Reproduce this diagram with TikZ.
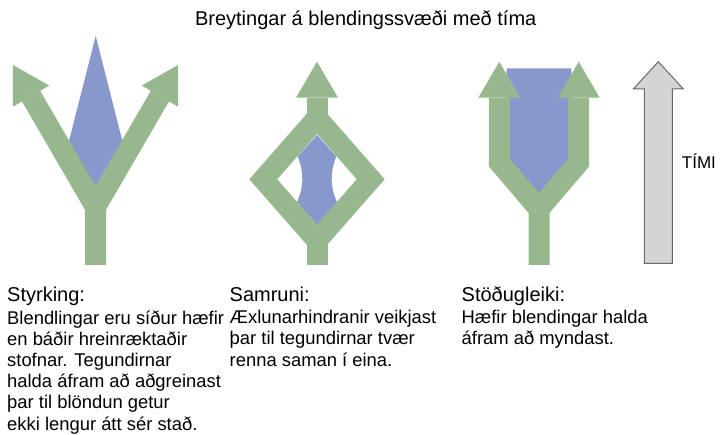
\documentclass[tikz,border=0pt]{standalone}
\usepackage{fontspec}
\setmainfont{Liberation Sans}
\usepackage{tikz}
\usetikzlibrary{positioning}
\usetikzlibrary{arrows.meta}
\definecolor{armgreen}{RGB}{151,184,143}
\definecolor{hybridblue}{RGB}{136,152,204}
\definecolor{timegray}{RGB}{211,212,214}
\definecolor{timeedge}{RGB}{105,105,105}

\begin{document}
\begin{tikzpicture}[x=1pt, y=-1pt,
    arm/.style = {draw=armgreen, line width=21pt, line join=miter},
    armtip/.style = {-{Triangle[width=42pt, length=36pt, line width=0pt]}},
    hybrid/.style = {fill=hybridblue},
    heading/.style = {inner sep=0pt, anchor=base west, font=\fontsize{20}{24}\selectfont, text depth=0.25em},
    body/.style = {inner sep=0pt, align=left, font=\fontsize{18.4}{21.2}\selectfont}]
    \useasboundingbox (0,0) rectangle (725,435);
    % Title
    \node[anchor=base, inner sep=0pt, font=\fontsize{20}{24}\selectfont] (title) at (365.7,26) {Breytingar á blendingssvæði með tíma};
    % Styrking
    \coordinate (sBase) at (95.5,265);
    \coordinate (sFork) at (95.5,207);
    \coordinate (sLeft) at (13,65);
    \coordinate (sRight) at (178,65);
    \fill[hybrid] (95.7,36) -- (66.7,150) -- (95.5,195) -- (124.7,150) -- cycle;
    \draw[arm, armtip] (sBase) -- (sFork) -- (sLeft);
    \draw[arm, armtip] (sFork) -- (sRight);
    % Samruni
    \coordinate (mBase) at (317,265);
    \coordinate (mBottom) at (317,240.5);
    \coordinate (mLeft) at (263.3,179.3);
    \coordinate (mTop) at (317,118);
    \coordinate (mRight) at (370.7,179.3);
    \coordinate (mTip) at (317,61.7);
    \fill[hybrid] (317,135) -- (297.7,156.5) .. controls (304,172) and (304,187) .. (297,202) -- (317,225)
        -- (337,202) .. controls (330,187) and (330,172) .. (336.3,156.5) -- cycle;
    \draw[arm] (mTop) -- (mRight) -- (mBottom) -- (mLeft) -- cycle;
    \draw[arm] (mBase) -- (mBottom);
    \draw[arm, armtip] (mTop) -- (mTip);
    % Stodugleiki
    \coordinate (dBase) at (539,265);
    \coordinate (dFork) at (539,209);
    \coordinate (dLeftBend) at (499.3,162.5);
    \coordinate (dLeftTip) at (499.3,61.7);
    \coordinate (dRightBend) at (578.7,162.5);
    \coordinate (dRightTip) at (578.7,61.7);
    \fill[hybrid] (506.7,68.3) -- (571.3,68.3) -- (571.3,165) -- (539,200) -- (506.7,165) -- cycle;
    \draw[arm, armtip] (dBase) -- (dFork) -- (dLeftBend) -- (dLeftTip);
    \draw[arm, armtip] (dFork) -- (dRightBend) -- (dRightTip);
    % Time arrow
    \draw[fill=timegray, draw=timeedge, line width=1pt] (644.3,263.3) -- (644.3,89) -- (633.3,89) -- (658.3,61.7)
        -- (683.3,89) -- (672.3,89) -- (672.3,263.3) -- cycle;
    \node[anchor=base west, inner sep=0pt, font=\fontsize{17}{20}\selectfont] (timi) at (681.7,169) {TÍMI};
    % Texts
    \node[heading] (styrking) at (7,302) {Styrking:};
    \node[heading] (samruni) at (229.5,302) {Samruni:};
    \node[heading] (stodugleiki) at (461.5,302) {Stöðugleiki:};
    \node[body, below right=5.5pt and 0pt of styrking.south west] (styrkingtext) {Blendlingar eru síður hæfir\\en báðir hreinræktaðir\\stofnar. Tegundirnar\\halda áfram að aðgreinast\\þar til blöndun getur\\ekki lengur átt sér stað.};
    \node[body, below right=5.5pt and 0pt of samruni.south west] (samrunitext) {Æxlunarhindranir veikjast\\þar til tegundirnar tvær\\renna saman í eina.};
    \node[body, below right=5.5pt and 0pt of stodugleiki.south west] (stodugleikitext) {Hæfir blendingar halda\\áfram að myndast.};
\end{tikzpicture}
\end{document}
